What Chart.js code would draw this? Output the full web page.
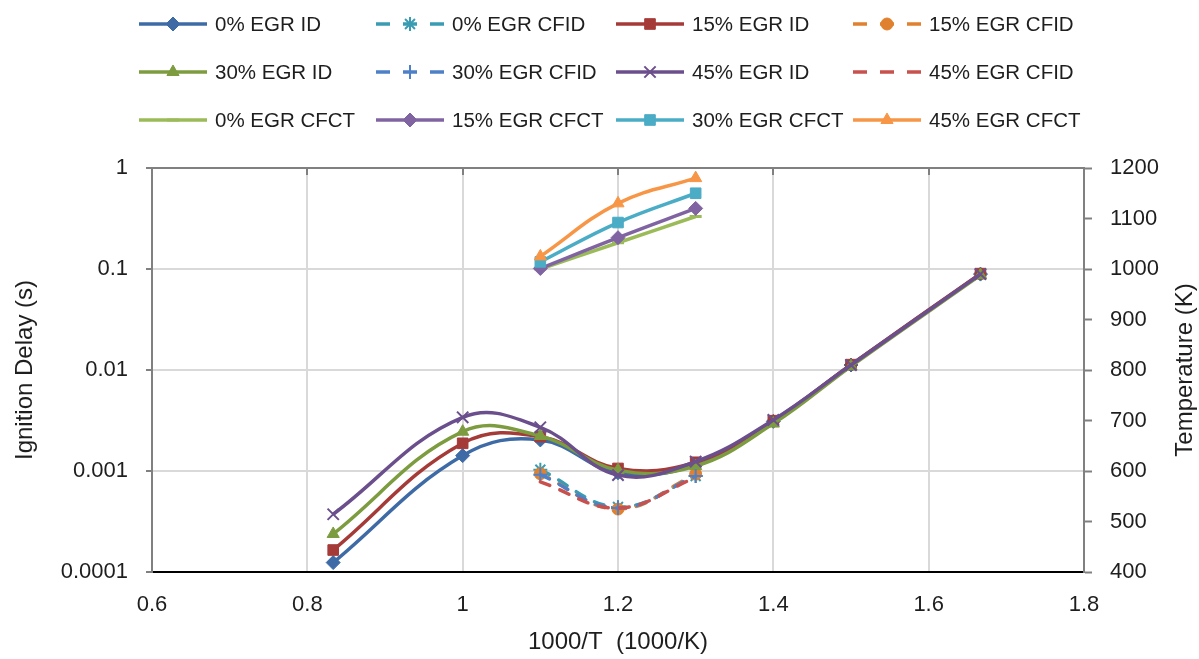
<!DOCTYPE html>
<html>
<head>
<meta charset="utf-8">
<script src="https://cdn.jsdelivr.net/npm/chart.js@4.4.0/dist/chart.umd.min.js"></script>
<style>
  html, body { margin: 0; padding: 0; background: #ffffff; }
  #wrap { width: 1199px; height: 659px; position: relative; }
</style>
</head>
<body>
<div id="wrap"><canvas id="c" width="1199" height="659"></canvas></div>
<script>
// Inverse temperature (1000/K) of each test condition
const invT = [0.8333, 1.0, 1.1, 1.2, 1.3, 1.4, 1.5, 1.6667];
// Conditions where a cool flame was observed
const invTCool = [1.1, 1.2, 1.3];

// Total ignition delay (s)
const id0  = [1.24e-4, 1.42e-3, 2.03e-3, 9.6e-4, 1.15e-3, 3.10e-3, 0.0112, 0.089];
const id15 = [1.65e-4, 1.88e-3, 2.19e-3, 1.06e-3, 1.22e-3, 3.15e-3, 0.0113, 0.090];
const id30 = [2.38e-4, 2.45e-3, 2.22e-3, 1.02e-3, 1.12e-3, 2.95e-3, 0.0109, 0.087];
const id45 = [3.73e-4, 3.40e-3, 2.71e-3, 9.1e-4, 1.24e-3, 3.20e-3, 0.0112, 0.089];

// Cool flame ignition delay (s)
const cfid0  = [1.03e-3, 4.4e-4, 8.9e-4];
const cfid15 = [9.4e-4, 4.2e-4, 9.3e-4];
const cfid30 = [9.2e-4, 4.3e-4, 8.9e-4];
const cfid45 = [7.8e-4, 4.3e-4, 8.6e-4];

// Cool flame combustion temperature (K)
const cfct0  = [1000, 1052, 1104];
const cfct15 = [1001, 1062, 1120];
const cfct30 = [1014, 1092, 1150];
const cfct45 = [1025, 1130, 1180];

// Axis tick labels
const xTickLabels = ['0.6', '0.8', '1', '1.2', '1.4', '1.6', '1.8'];
const yTickValues = [0.0001, 0.001, 0.01, 0.1, 1];
const yTickLabels = ['0.0001', '0.001', '0.01', '0.1', '1'];

const FONT = "'Liberation Sans', Arial, sans-serif";
const TEXT = '#1e1e1e';

function pts(xs, ys) { return xs.map((x, i) => ({ x: x, y: ys[i] })); }

const DASH = [10, 11];

function series(label, xs, ys, color, opts) {
  const o = opts || {};
  return {
    label: label,
    data: pts(xs, ys),
    yAxisID: o.axis || 'y',
    showLine: true,
    borderColor: color,
    backgroundColor: color,
    borderWidth: 3.5,
    borderDash: o.dash ? DASH : [],
    borderCapStyle: o.dash ? 'round' : 'butt',
    tension: 0.4,
    pointStyle: o.point === undefined ? 'circle' : o.point,
    pointRadius: o.radius === undefined ? 6 : o.radius,
    pointBorderWidth: o.pbw || 1,
    pointBackgroundColor: color,
    pointBorderColor: color,
    pointHoverRadius: 0,
    legendDash: !!o.dash
  };
}

const datasets = [
  series('0% EGR ID',    invT, id0,  '#3E6BA6', { point: 'rectRot', radius: 7 }),
  series('0% EGR CFID',  invTCool, cfid0, '#3A9CB2', { dash: true, point: 'star', radius: 7, pbw: 2 }),
  series('15% EGR ID',   invT, id15, '#A53B38', { point: 'rect', radius: 7.5 }),
  series('15% EGR CFID', invTCool, cfid15, '#E0812F', { dash: true, point: 'circle', radius: 6 }),
  series('30% EGR ID',   invT, id30, '#7C9C3F', { point: 'triangle', radius: 7 }),
  series('30% EGR CFID', invTCool, cfid30, '#4D80C8', { dash: true, point: 'cross', radius: 7, pbw: 2 }),
  series('45% EGR ID',   invT, id45, '#6B4F8D', { point: 'crossRot', radius: 8, pbw: 2 }),
  series('45% EGR CFID', invTCool, cfid45, '#C8504D', { dash: true, point: false, radius: 0 }),
  series('0% EGR CFCT',  invTCool, cfct0,  '#9BBB59', { axis: 'y2', point: 'line', radius: 6, pbw: 3 }),
  series('15% EGR CFCT', invTCool, cfct15, '#8064A2', { axis: 'y2', point: 'rectRot', radius: 7 }),
  series('30% EGR CFCT', invTCool, cfct30, '#4BACC6', { axis: 'y2', point: 'rect', radius: 7.5 }),
  series('45% EGR CFCT', invTCool, cfct45, '#F79646', { axis: 'y2', point: 'triangle', radius: 7 })
];
// later series sit on top of earlier ones
datasets.forEach((d, i) => { d.order = 100 - i; });

// Legend: 3 rows x 4 columns, line sample with marker
const legendPlugin = {
  id: 'gridLegend',
  afterDraw(chart) {
    const ctx = chart.ctx;
    const colX = [139, 376, 616, 853];
    const rowY = [24, 72, 120];
    const sample = 68;
    ctx.save();
    chart.data.datasets.forEach((ds, i) => {
      const x0 = colX[i % 4];
      const y = rowY[Math.floor(i / 4)];
      ctx.strokeStyle = ds.borderColor;
      ctx.lineWidth = 3.5;
      ctx.lineCap = 'butt';
      ctx.setLineDash(ds.legendDash ? [14, 13] : []);
      ctx.beginPath();
      ctx.moveTo(x0, y);
      ctx.lineTo(x0 + sample, y);
      ctx.stroke();
      ctx.setLineDash([]);
      if (ds.pointStyle && ds.pointRadius > 0) {
        ctx.fillStyle = ds.pointBackgroundColor;
        ctx.strokeStyle = ds.pointBorderColor;
        ctx.lineWidth = ds.pointBorderWidth;
        Chart.helpers.drawPoint(ctx, {
          pointStyle: ds.pointStyle,
          radius: ds.pointRadius,
          borderWidth: ds.pointBorderWidth,
          rotation: 0
        }, x0 + sample / 2, y);
      }
      ctx.fillStyle = TEXT;
      ctx.font = '20.5px ' + FONT;
      ctx.textAlign = 'left';
      ctx.textBaseline = 'middle';
      ctx.fillText(ds.label, x0 + sample + 8, y + 1);
    });
    ctx.restore();
  }
};

// Top frame line with inward ticks, plus the right-hand axis title
const framePlugin = {
  id: 'frame',
  beforeDatasetsDraw(chart) {
    const ctx = chart.ctx;
    const a = chart.chartArea;
    const xs = chart.scales.x;
    ctx.save();
    ctx.strokeStyle = '#808080';
    ctx.lineWidth = 2;
    ctx.beginPath();
    ctx.moveTo(a.left, a.top);
    ctx.lineTo(a.right, a.top);
    ctx.stroke();
    xs.ticks.forEach(t => {
      const px = Math.round(xs.getPixelForValue(t.value));
      ctx.beginPath();
      ctx.moveTo(px, a.top);
      ctx.lineTo(px, a.top + 7);
      ctx.stroke();
    });
    ctx.restore();
  },
  afterDraw(chart) {
    const ctx = chart.ctx;
    const a = chart.chartArea;
    ctx.save();
    ctx.translate(1185, (a.top + a.bottom) / 2);
    ctx.rotate(-Math.PI / 2);
    ctx.fillStyle = TEXT;
    ctx.font = '24px ' + FONT;
    ctx.textAlign = 'center';
    ctx.textBaseline = 'middle';
    ctx.fillText('Temperature (K)', 0, 0);
    ctx.restore();
  }
};

new Chart(document.getElementById('c'), {
  type: 'scatter',
  data: { datasets: datasets },
  plugins: [legendPlugin, framePlugin],
  options: {
    responsive: false,
    animation: false,
    devicePixelRatio: 1,
    layout: { padding: { top: 168, left: 0, right: 0, bottom: 0 } },
    plugins: { legend: { display: false }, tooltip: { enabled: false } },
    scales: {
      x: {
        type: 'linear', position: 'bottom', min: 0.6, max: 1.8,
        ticks: {
          stepSize: 0.2, padding: 20, color: TEXT,
          font: { family: FONT, size: 22 },
          callback: (v) => xTickLabels[Math.round((v - 0.6) / 0.2)]
        },
        grid: { color: '#d9d9d9', lineWidth: 2, drawTicks: false },
        border: { color: '#000000', width: 2 },
        title: {
          display: true, text: '1000/T  (1000/K)', color: TEXT,
          font: { family: FONT, size: 24 }, padding: { top: 0, bottom: 2 }
        },
        afterFit: (s) => { s.height = 87; }
      },
      y: {
        type: 'logarithmic', position: 'left', min: 0.0001, max: 1,
        afterBuildTicks: (s) => { s.ticks = yTickValues.map(v => ({ value: v })); },
        ticks: {
          padding: 18, color: TEXT, font: { family: FONT, size: 22 },
          callback: (v) => yTickLabels[yTickValues.findIndex(t => Math.abs(t - v) / t < 1e-6)]
        },
        grid: { color: '#d9d9d9', lineWidth: 2, tickLength: 6, tickColor: '#808080', tickWidth: 2 },
        border: { color: '#808080', width: 2 },
        title: {
          display: true, text: 'Ignition Delay (s)', color: TEXT,
          font: { family: FONT, size: 24 }, padding: { top: 11, bottom: 0 }
        },
        afterFit: (s) => { s.width = 152; }
      },
      y2: {
        type: 'linear', position: 'right', min: 400, max: 1200,
        ticks: {
          stepSize: 100, padding: 18, color: TEXT, font: { family: FONT, size: 22 },
          callback: (v) => String(v)
        },
        grid: { drawOnChartArea: false, tickLength: 8, tickColor: '#808080', tickWidth: 2 },
        border: { color: '#808080', width: 2 },
        afterFit: (s) => { s.width = 115; }
      }
    }
  }
});
</script>
</body>
</html>
